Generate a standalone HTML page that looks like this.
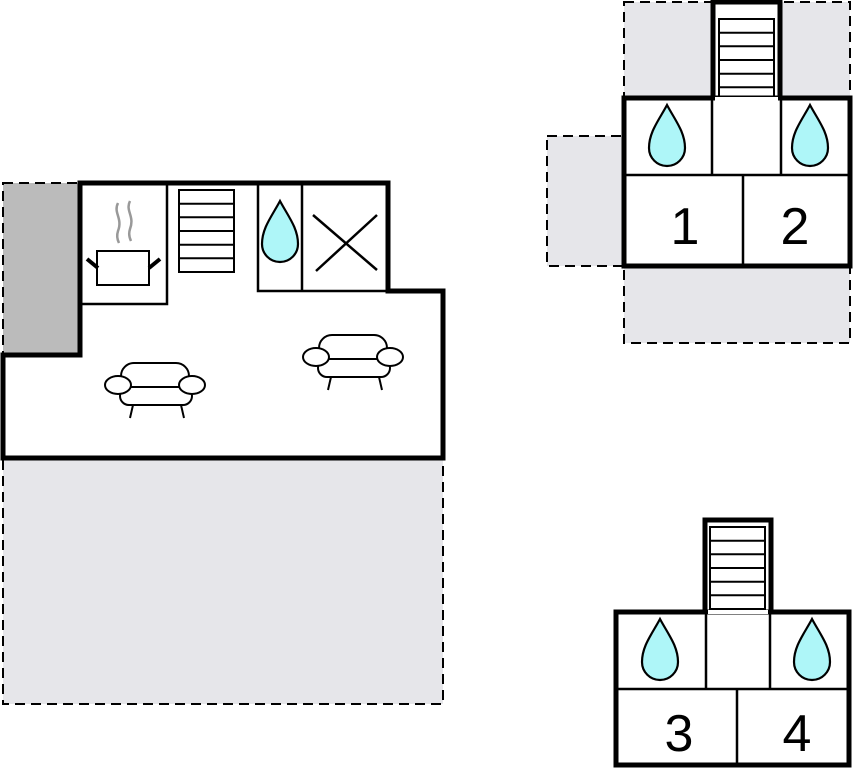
<!DOCTYPE html>
<html><head><style>body{margin:0;background:#fff}svg{display:block}</style></head><body>
<svg width="853" height="768" viewBox="0 0 853 768" xmlns="http://www.w3.org/2000/svg">
<defs>
<path id="drop" d="M0,-31 C8,-16 18,-4 18,12 A18,18 0 0 1 -18,12 C-18,-4 -8,-16 0,-31 Z" fill="#aef6f8" stroke="#000" stroke-width="2.2"/>
<g id="chair" fill="#fff" stroke="#000" stroke-width="2">
<line x1="-22" y1="20" x2="-25" y2="33"/><line x1="26" y1="20" x2="29" y2="33"/>
<rect x="-34" y="-22" width="68" height="32" rx="13"/>
<rect x="-35" y="2" width="72" height="18" rx="9"/>
<ellipse cx="-37" cy="0" rx="13" ry="9"/>
<ellipse cx="37" cy="0" rx="13" ry="9"/>
</g>
<g id="stairs" fill="#fff" stroke="#000" stroke-width="2"><rect x="0" y="0" width="55" height="82"/>
<line x1="0" y1="13.7" x2="55" y2="13.7"/><line x1="0" y1="27.3" x2="55" y2="27.3"/><line x1="0" y1="41" x2="55" y2="41"/><line x1="0" y1="54.7" x2="55" y2="54.7"/><line x1="0" y1="68.3" x2="55" y2="68.3"/></g>
</defs>
<!-- left building -->
<rect x="3" y="458" width="440" height="246" fill="#e6e6ea" stroke="#000" stroke-width="2" stroke-dasharray="10,6"/>
<rect x="3" y="183" width="77" height="172" fill="#bbb" stroke="#000" stroke-width="2" stroke-dasharray="10,6"/>
<polygon points="80,183 388,183 388,291 443,291 443,458 3,458 3,355 80,355" fill="#fff" stroke="#000" stroke-width="5"/>
<g stroke="#000" stroke-width="2.5" fill="none">
<polyline points="167,183 167,304 80,304"/>
<polyline points="258,183 258,291 388,291"/>
<line x1="302" y1="183" x2="302" y2="291"/>
<line x1="313" y1="215" x2="377" y2="270"/><line x1="377" y1="215" x2="316" y2="271"/>
</g>
<use href="#stairs" x="179" y="190"/>
<use href="#drop" x="280" y="232"/>
<g stroke="#999" stroke-width="2.5" fill="none"><path d="M118,203 c-5,10 5,15 0,28 c-2,6 0,10 1,12"/><path d="M130,201 c-5,10 5,15 0,28 c-2,6 0,10 1,12"/></g>
<rect x="97" y="251" width="52" height="34" fill="#fff" stroke="#000" stroke-width="2"/>
<line x1="87" y1="259" x2="98" y2="268" stroke="#000" stroke-width="4"/>
<line x1="160" y1="259" x2="149" y2="268" stroke="#000" stroke-width="4"/>
<use href="#chair" x="155" y="385"/>
<use href="#chair" x="353" y="357"/>
<!-- top right -->
<g fill="#e6e6ea" stroke="#000" stroke-width="2" stroke-dasharray="10,6">
<rect x="624" y="2" width="226" height="96"/>
<rect x="547" y="136" width="77" height="130"/>
<rect x="624" y="266" width="226" height="77"/>
</g>
<rect x="713" y="2" width="67" height="98" fill="#fff" stroke="#000" stroke-width="5"/>
<use href="#stairs" x="719" y="19"/>
<rect x="624" y="98" width="226" height="168" fill="#fff" stroke="#000" stroke-width="5"/>
<rect x="715" y="97" width="63" height="4" fill="#fff"/>
<g stroke="#000" stroke-width="2.5"><line x1="624" y1="175" x2="850" y2="175"/><line x1="712" y1="98" x2="712" y2="175"/><line x1="781" y1="98" x2="781" y2="175"/><line x1="743" y1="175" x2="743" y2="266"/></g>
<use href="#drop" x="667" y="136"/><use href="#drop" x="810" y="136"/>
<!-- bottom right -->
<rect x="705" y="520" width="66" height="94" fill="#fff" stroke="#000" stroke-width="5"/>
<use href="#stairs" x="710" y="527"/>
<rect x="616" y="612" width="233" height="153" fill="#fff" stroke="#000" stroke-width="5"/>
<rect x="708" y="610" width="60" height="4" fill="#fff"/>
<g stroke="#000" stroke-width="2.5"><line x1="616" y1="689" x2="849" y2="689"/><line x1="706" y1="612" x2="706" y2="689"/><line x1="770" y1="612" x2="770" y2="689"/><line x1="737" y1="689" x2="737" y2="765"/></g>
<use href="#drop" x="660" y="650"/><use href="#drop" x="812" y="650"/>
<g font-family="Liberation Sans, sans-serif" font-size="52" text-anchor="middle"><text x="685" y="244">1</text><text x="795" y="244">2</text>
<text x="679" y="751">3</text><text x="797" y="751">4</text></g>
</svg>
</body></html>
